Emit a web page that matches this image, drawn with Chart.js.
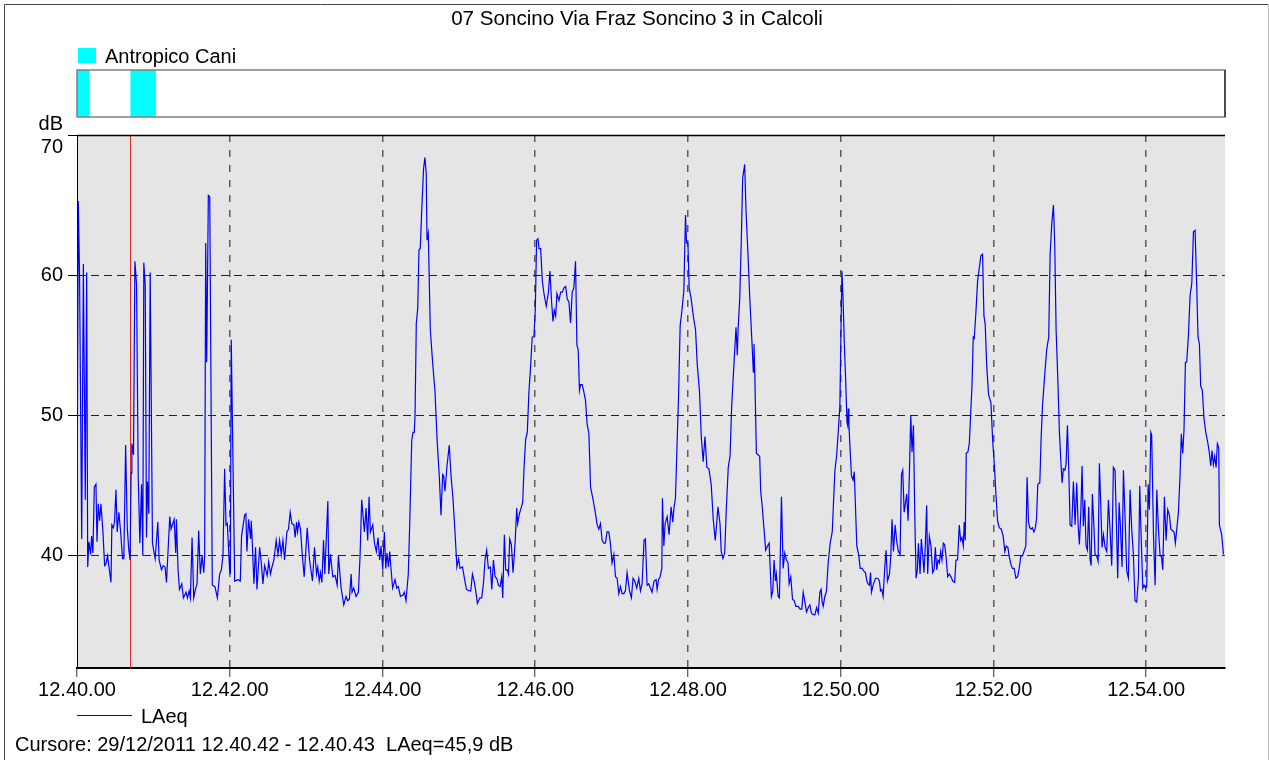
<!DOCTYPE html>
<html>
<head>
<meta charset="utf-8">
<title>07 Soncino Via Fraz Soncino 3 in Calcoli</title>
<script src="https://cdn.jsdelivr.net/npm/chart.js@4.4.1/dist/chart.umd.min.js"></script>
<style>
  html, body { margin: 0; padding: 0; background: #fff; }
  canvas { display: block; }
</style>
</head>
<body>
<canvas id="laeqChart" width="1269" height="760"></canvas>
<script>
// seconds after 12.40.00 and LAeq in dB
const secA = [
  0, 1, 2, 3.7, 5, 6.5, 7.6, 8.4, 9.4, 10.7,
  11.5, 12.5, 13.6, 14.9, 15.7, 16.7, 17.8, 18.8, 20.4, 21.7,
  22.7, 24, 26.7, 27.4, 28.5, 29.5, 30.6, 31.6, 32.9, 34.2,
  35.8, 36.8, 38.2, 39.5, 40.6, 41.7, 42.5, 43.1, 44.4, 45.5,
  46.8, 48.1, 49.4, 50.7, 51.7, 52.5, 53.6, 54.6, 55.4, 56.4,
  57.5, 59.3, 60.4, 61.4, 63.5, 64.5, 66.4, 67.7, 69.2, 70.3,
  72.9, 73.9, 76.3, 77.6, 78.1, 79.4, 80.5, 82.3, 83.6, 85.7,
  86.8, 88.1, 89.1, 90.4, 91.7, 93.3, 94.3, 95.6, 96.9, 98.3,
  99.6, 100.3, 101.1, 101.9, 103.2, 104.3, 106.3, 108.4, 110.3, 112.1,
  113.4, 114.7, 116.0, 117.1, 118.1, 119.9, 120.5, 121.2, 123.9, 126.7,
  128.3, 129.3, 131.7, 132.7, 133.5, 134.8, 136.4, 136.9, 137.7, 139.0,
  140.3, 141.4, 143.5, 144.8, 146.1
];
const dbA = [
  41.0, 65.3, 60.0, 41.2, 60.8, 44.0, 60.2, 39.2, 41.0, 40.1,
  41.4, 40.2, 44.9, 45.1, 41.0, 43.7, 42.5, 43.7, 41.7, 39.3,
  39.4, 40.0, 38.1, 42.2, 42.0, 42.4, 44.7, 41.7, 43.1, 41.8,
  39.8, 39.8, 47.9, 42.0, 40.5, 39.7, 45.9, 48.0, 47.2, 61.0,
  59.3, 45.6, 40.9, 45.1, 40.0, 60.9, 59.3, 41.3, 45.3, 43.0,
  60.2, 40.9, 40.3, 39.8, 42.4, 39.7, 39.0, 39.3, 39.2, 38.1,
  42.8, 41.9, 42.6, 40.2, 42.6, 39.0, 37.6, 38.0, 37.0, 37.4,
  37.0, 37.5, 37.0, 41.3, 37.0, 37.7, 38.0, 41.8, 38.7, 40.0,
  38.8, 40.0, 62.3, 53.8, 65.7, 65.6, 37.9, 37.8, 37.0, 38.7,
  39.0, 40.0, 46.2, 42.2, 42.3, 39.0, 38.7, 55.4, 38.2, 38.3,
  38.2, 41.4, 42.9, 43.0, 40.3, 42.6, 41.2, 42.5, 41.0, 38.0,
  40.6, 37.6, 40.6, 39.5, 38.0
];

const secB = [
  147.4, 149.5, 150.6, 152.0, 153.2, 154.7, 156.5, 157.9, 159.2, 160.5,
  161.8, 163.1, 164.9, 166.2, 167.5, 168.8, 170.4, 171.4, 172.5, 173.3,
  174.3, 175.6, 176.9, 178.5, 180.9, 182.7, 185.0, 186.6, 188.2, 189.2,
  190.3, 191.3, 192.4, 193.7, 194.7, 197.1, 197.8, 199.1, 201.0, 202.8,
  204.4, 205.4, 207.5, 209.6, 211.4, 212.7, 214.0, 215.4, 216.1, 217.4,
  219.3, 221.1, 222.4, 223.7, 225.8, 227.1, 228.4, 229.5, 230.5, 232.4,
  233.7, 235.2, 236.5, 237.8, 238.9, 240.2, 241.5, 242.6, 243.6, 244.7,
  245.7, 246.8, 248.0, 249.9, 251.2, 252.5, 254.1, 256.2, 257.2, 258.5,
  260.3, 261.4, 263.0, 264.0, 265.0, 265.6, 266.6, 267.7, 268.7, 269.7,
  270.8, 272.3, 273.4, 274.4, 275.0, 276.0, 277.6, 279.5, 281.3, 282.9,
  284.7, 286.0, 287.3, 288.1, 289.1, 290.7, 292.5, 293.8, 295.4, 297.0,
  298.5, 299.8
];
const dbB = [
  39.3, 38.6, 39.6, 38.7, 39.2, 39.7, 41.1, 40.1, 41.1, 40.1,
  41.1, 39.7, 41.7, 41.9, 43.1, 42.3, 42.2, 41.3, 42.4, 41.7,
  42.4, 41.9, 40.2, 38.5, 42.0, 39.7, 38.2, 40.6, 38.7, 39.2,
  38.2, 38.8, 38.1, 41.1, 38.7, 43.9, 38.7, 40.1, 38.5, 38.6,
  37.9, 40.0, 37.7, 36.5, 37.1, 36.8, 36.9, 38.7, 37.4, 37.7,
  37.1, 37.4, 40.0, 44.0, 41.7, 43.4, 41.1, 44.2, 41.7, 42.2,
  40.9, 40.3, 41.3, 39.7, 40.7, 39.0, 41.7, 39.1, 40.2, 39.2,
  40.3, 39.0, 37.7, 38.3, 37.7, 37.8, 37.1, 37.2, 37.4, 36.8,
  38.7, 42.2, 48.2, 48.8, 48.8, 50.0, 56.6, 57.6, 61.8, 61.9,
  64.5, 67.6, 68.4, 67.2, 62.5, 63.0, 56.1, 53.7, 51.7, 48.3,
  45.6, 42.9, 45.8, 45.7, 44.6, 46.4, 47.9, 45.8, 44.1, 41.7,
  39.2, 39.8
];

const secC = [
  301.0, 302.9, 304.2, 306.0, 308.1, 309.4, 310.7, 312.0, 313.3, 314.6,
  316.5, 318.0, 319.3, 320.6, 321.9, 323.2, 324.8, 325.9, 327.2, 328.5,
  329.8, 331.1, 332.4, 333.7, 334.5, 335.8, 336.8, 338.1, 339.0, 340.0,
  341.3, 342.6, 344.2, 345.5, 346.2, 347.6, 348.9, 350.2, 351.2, 352.5,
  353.8, 355.1, 356.2, 357.7, 359.0, 360.1, 361.1, 362.2, 363.0, 364.3,
  365.6, 366.9, 368.7, 370.3, 371.6, 372.9, 374.0, 375.0, 376.1, 377.1,
  378.7, 380.0, 381.3, 382.6, 383.9, 385.2, 386.5, 387.8, 389.1, 390.4,
  391.7, 392.8, 393.8, 394.8, 395.6, 396.9, 398.2, 399.5, 400.8, 402.2,
  403.5, 405.3, 407.4, 408.7, 410.0, 411.3, 412.6, 413.9, 415.2, 416.5,
  417.8, 419.1, 420.4, 421.8, 423.1, 424.4, 425.7, 427.0, 428.3, 429.6,
  430.9, 432.2, 434.1, 435.6, 436.9, 438.2, 439.8, 441.4, 442.7, 444.0,
  445.5, 446.6, 447.9, 449.2, 450.5, 451.8, 453.4
];
const dbC = [
  39.1, 39.2, 38.5, 37.6, 37.5, 37.5, 38.7, 38.2, 37.5, 36.6,
  37.0, 37.0, 38.0, 39.7, 40.4, 39.1, 39.2, 37.6, 39.7, 38.5,
  38.4, 37.9, 37.8, 38.5, 37.0, 41.5, 39.0, 39.0, 38.7, 41.2,
  40.8, 38.8, 40.9, 43.4, 42.3, 43.0, 43.4, 43.8, 46.2, 48.3,
  48.8, 51.7, 53.2, 55.6, 55.6, 57.6, 62.5, 62.6, 61.9, 61.9,
  59.6, 58.7, 57.8, 58.7, 60.3, 58.1, 56.7, 57.5, 57.1, 58.7,
  58.2, 58.8, 58.8, 59.1, 59.2, 58.3, 58.1, 56.6, 58.8, 59.1,
  61.0, 55.0, 54.7, 51.8, 52.2, 52.2, 51.7, 51.1, 49.4, 48.7,
  44.9, 44.1, 43.0, 42.2, 41.9, 42.3, 41.1, 40.9, 40.9, 41.7,
  41.7, 40.9, 39.5, 40.1, 38.5, 38.4, 37.3, 37.8, 37.3, 37.3,
  37.5, 38.8, 37.5, 37.0, 38.4, 38.2, 37.7, 38.4, 37.5, 38.0,
  41.1, 41.2, 37.9, 38.0, 37.7, 37.4, 38.2
];

const secD = [
  455.0, 455.8, 456.9, 458.2, 459.5, 460.0, 461.1, 462.1, 463.7, 465.2,
  466.8, 468.1, 469.0, 470.2, 471.6, 472.6, 473.9, 475.2, 476.8, 478.1,
  478.9, 480.0, 481.0, 482.6, 484.4, 486.0, 487.3, 489.1, 490.5, 492.0,
  493.4, 494.9, 496.5, 498.3, 499.9, 501.5, 502.5, 503.6, 505.2, 506.2,
  507.5, 508.9, 510.2, 511.7, 513.1, 514.4, 516.2, 517.8, 518.8, 519.4,
  520.7, 522.0, 523.0, 524.6, 525.7, 527.2, 528.5, 530.4, 531.4, 531.9,
  532.5, 533.8, 535.1, 536.4, 537.2, 538.3, 539.8, 541.1, 542.5, 543.8,
  545.6, 546.7, 547.7, 548.8, 549.5, 550.9, 551.9, 553.5, 554.8, 556.1,
  557.4, 558.7, 559.5, 560.8, 562.2, 563.5, 564.8, 566.6, 568.2, 569.5,
  570.6, 571.9, 573.2, 574.5, 575.8, 577.1, 578.4, 579.8, 581.1, 582.4,
  583.7, 584.7, 585.5, 586.3, 587.6, 588.9, 590.2, 591.8, 593.4, 595.5,
  596.8, 598.1, 599.4, 600.2, 601.0, 601.8, 602.9, 603.9, 605.0, 605.5,
  606.0, 606.5, 607.3
];
const dbD = [
  38.3, 37.6, 38.3, 38.5, 39.1, 44.1, 40.7, 42.3, 42.8, 41.5,
  43.5, 42.4, 43.4, 44.1, 48.3, 51.2, 56.4, 57.4, 58.9, 64.3,
  62.3, 62.3, 59.1, 58.3, 57.0, 56.1, 53.7, 51.7, 48.5, 46.7,
  48.5, 46.3, 46.2, 45.1, 42.6, 41.1, 42.2, 43.5, 42.3, 40.3,
  39.8, 40.2, 43.4, 46.3, 47.1, 50.7, 53.7, 56.3, 54.3, 56.1,
  58.3, 62.7, 66.9, 67.9, 64.5, 61.5, 58.6, 55.1, 53.1, 55.1,
  53.2, 47.3, 47.2, 47.1, 44.6, 43.6, 41.9, 40.4, 40.7, 40.9,
  37.1, 37.5, 39.7, 38.2, 38.7, 37.1, 37.0, 44.2, 39.1, 40.2,
  39.7, 39.5, 38.0, 38.5, 36.9, 36.8, 36.4, 36.4, 36.2, 36.2,
  37.4, 36.7, 36.0, 36.3, 36.5, 35.9, 35.8, 35.8, 36.3, 35.9,
  37.4, 37.6, 36.7, 36.4, 37.1, 37.5, 39.5, 40.9, 41.7, 46.1,
  47.1, 48.8, 50.7, 55.6, 60.3, 58.6, 55.1, 52.7, 49.5, 49.3,
  50.5, 49.4, 47.8
];

const secE = [
  608.5, 609.8, 610.7, 611.7, 612.7, 614.1, 615.4, 616.9, 618.2, 619.5,
  620.6, 621.6, 622.7, 623.5, 624.2, 625.8, 627.4, 629.2, 630.5, 631.3,
  632.3, 633.4, 634.7, 635.7, 636.8, 638.4, 639.4, 640.4, 641.5, 642.8,
  644.1, 645.4, 646.7, 647.8, 648.8, 649.9, 651.0, 651.9, 653.0, 654.0,
  655.1, 656.1, 657.2, 658.2, 659.3, 660.3, 661.1, 662.4, 663.4, 664.5,
  665.5, 666.6, 667.6, 668.4, 669.7, 671.0, 672.3, 673.4, 674.4, 675.5,
  676.5, 677.6, 678.6, 679.6, 680.7, 681.7, 682.8, 684.1, 685.4, 686.7,
  688.0, 689.6, 690.6, 691.9, 693.2, 694.3, 695.3, 696.4, 697.1, 697.9,
  698.7, 700.0, 701.1, 702.1, 703.2, 704.2, 705.0, 706.3, 707.6, 708.9,
  710.2, 711.5, 712.6, 713.6, 714.7, 716.2, 718.1, 719.4, 720.7, 722.0,
  723.3, 724.6, 726.2, 727.7, 729.0, 730.1, 731.4, 732.4, 733.7, 735.0,
  736.3, 737.7, 739.0, 740.3, 741.6, 742.9, 744.4, 745.5, 746.5, 747.6,
  748.6, 749.7, 750.7, 751.8, 752.8, 753.9, 754.9, 756.5, 757.5, 758.6
];
const dbE = [
  45.7, 45.4, 46.0, 43.4, 40.7, 40.1, 39.1, 39.1, 38.9, 38.8,
  38.2, 38.0, 37.9, 38.8, 37.4, 38.0, 38.4, 38.4, 38.2, 37.5,
  37.6, 37.1, 39.2, 40.4, 38.2, 38.7, 40.0, 42.6, 40.3, 42.2,
  41.0, 40.3, 40.1, 45.8, 46.1, 43.1, 43.8, 44.4, 42.5, 45.8,
  50.0, 47.4, 49.3, 43.1, 38.4, 39.0, 40.9, 38.7, 41.2, 40.0,
  38.8, 40.9, 43.6, 38.7, 41.4, 40.7, 38.8, 39.0, 40.6, 39.0,
  39.7, 39.5, 40.3, 39.7, 40.9, 40.8, 40.0, 38.5, 38.7, 38.5,
  38.2, 38.1, 39.7, 39.7, 42.2, 41.1, 41.3, 40.7, 42.4, 41.1,
  47.3, 47.4, 48.0, 50.0, 52.1, 55.6, 55.5, 57.4, 59.6, 60.5,
  61.4, 61.5, 57.1, 56.5, 53.7, 51.5, 50.9, 48.3, 46.6, 44.4,
  42.5, 42.0, 41.9, 41.4, 40.3, 40.7, 40.6, 40.0, 39.4, 39.1,
  39.1, 38.4, 38.5, 39.1, 40.0, 40.0, 40.4, 40.7, 45.6, 42.4,
  42.0, 41.9, 42.0, 41.7, 41.9, 42.6, 45.1, 45.2, 48.3, 50.7
];

const secF = [
  760.6, 761.9, 763.5, 764.6, 765.9, 767.2, 768.2, 769.3, 770.6, 771.9,
  773.0, 774.0, 775.0, 776.1, 777.1, 778.2, 779.2, 780.3, 781.6, 782.9,
  784.2, 785.5, 786.6, 787.6, 788.7, 789.7, 790.7, 791.8, 792.8, 793.9,
  794.9, 796.0, 796.8, 797.8, 798.9, 799.9, 801.2, 802.3, 803.3, 804.4,
  805.4, 806.5, 807.8, 809.1, 810.4, 811.7, 813.0, 814.3, 815.6, 816.7,
  817.7, 818.8, 819.8, 821.1, 822.2, 823.5, 824.8, 826.1, 827.4, 828.7,
  830.0, 831.3, 832.6, 834.0, 835.0, 836.1, 837.4, 838.4, 839.5, 840.5,
  841.6, 842.6, 843.7, 844.4, 845.8, 847.1, 848.4, 849.7, 851.0, 852.0,
  853.1, 854.4, 855.7, 857.0, 858.3, 859.4, 860.7, 862.0, 863.0, 864.1,
  865.4, 866.7, 867.7, 868.8, 869.8, 870.9, 871.9, 873.2, 874.6, 875.9,
  877.2, 878.5, 879.8, 880.8, 881.9, 882.9, 884.2, 885.5, 886.9, 888.2,
  889.5, 890.8, 891.8, 892.9, 893.9, 895.0, 896.0, 897.1, 897.6, 899.4,
  900.8
];
const dbF = [
  53.2, 54.7, 55.6, 61.5, 63.7, 65.0, 62.3, 56.1, 52.7, 48.8,
  46.8, 45.2, 46.2, 46.1, 46.5, 49.3, 46.3, 42.2, 42.1, 45.3,
  42.2, 45.2, 42.2, 40.8, 43.1, 46.4, 42.1, 44.0, 40.7, 40.4,
  43.5, 39.7, 39.3, 44.4, 42.3, 40.1, 40.0, 39.6, 46.6, 43.6,
  40.6, 41.5, 40.6, 40.3, 44.0, 41.8, 39.3, 46.3, 46.1, 42.2,
  38.4, 43.8, 42.2, 39.2, 46.1, 42.6, 38.9, 38.4, 44.7, 41.9,
  40.1, 36.8, 36.7, 38.4, 45.0, 41.4, 37.7, 37.9, 37.7, 37.8,
  45.1, 43.3, 48.8, 48.6, 41.5, 37.9, 44.7, 41.9, 40.0, 40.0,
  39.0, 44.2, 41.1, 43.3, 42.9, 41.9, 41.8, 41.7, 40.9, 41.9,
  43.1, 45.8, 48.7, 47.3, 49.0, 53.8, 53.8, 55.6, 58.6, 59.4,
  63.1, 63.2, 59.1, 55.6, 55.1, 52.1, 51.8, 49.8, 48.8, 48.2,
  47.5, 46.4, 47.5, 46.5, 47.1, 46.3, 48.0, 47.7, 42.2, 41.5,
  40.1
];

// "Antropico Cani" events (seconds after 12.40.00)
const caniStart = [0, 42];
const caniEnd = [10, 62];
const cursorSec = 42;

const xMax = 902;
const yMin = 32, yMax = 70;

const seconds = [].concat(secA, secB, secC, secD, secE, secF);
const levels = [].concat(dbA, dbB, dbC, dbD, dbE, dbF);
const points = seconds.map((s, i) => ({ x: s, y: levels[i] }));

const FAMILY = '"Liberation Sans", Arial, Helvetica, sans-serif';
const FONT = '20px ' + FAMILY;

function clock(sec) {
  const m = 40 + Math.floor(sec / 60);
  const s = Math.round(sec % 60);
  return '12.' + m + '.' + String(s).padStart(2, '0');
}

const decor = {
  id: 'decor',
  beforeDraw(chart) {
    const { ctx, chartArea: a } = chart;
    const x = chart.scales.x;
    ctx.save();
    ctx.fillStyle = '#fff';
    ctx.fillRect(0, 0, chart.width, chart.height);

    // outer frame
    ctx.lineWidth = 1;
    ctx.strokeStyle = '#444';
    ctx.beginPath();
    ctx.moveTo(4.5, chart.height);
    ctx.lineTo(4.5, 4.5);
    ctx.lineTo(1268, 4.5);
    ctx.stroke();
    ctx.strokeStyle = '#bbb';
    ctx.beginPath();
    ctx.moveTo(1268.5, 4.5);
    ctx.lineTo(1268.5, chart.height);
    ctx.stroke();

    // plot background
    ctx.fillStyle = '#e5e5e5';
    ctx.fillRect(a.left, a.top, a.right - a.left, a.bottom - a.top);

    // event strip
    const top = 70, h = 47;
    ctx.fillStyle = '#00ffff';
    caniStart.forEach((s, i) => {
      const x0 = x.getPixelForValue(s);
      ctx.fillRect(x0, top, x.getPixelForValue(caniEnd[i]) - x0, h);
    });
    ctx.strokeStyle = '#808080';
    ctx.lineWidth = 1.5;
    ctx.strokeRect(a.left, top, a.right - a.left, h);
    ctx.strokeStyle = '#333';
    ctx.beginPath();
    ctx.moveTo(a.right, top);
    ctx.lineTo(a.right, top + h);
    ctx.stroke();

    // texts
    ctx.fillStyle = '#000';
    ctx.textBaseline = 'middle';
    ctx.textAlign = 'center';
    ctx.font = '20.6px ' + FAMILY;
    ctx.fillText('07 Soncino Via Fraz Soncino 3 in Calcoli', 637, 19);

    ctx.font = FONT;
    ctx.fillStyle = '#00ffff';
    ctx.fillRect(78, 48, 18, 15);
    ctx.fillStyle = '#000';
    ctx.textAlign = 'left';
    ctx.fillText('Antropico Cani', 105, 57);

    ctx.textAlign = 'right';
    ctx.fillText('dB', 63, 124);
    ctx.fillText('70', 63, chart.scales.y.getPixelForValue(yMax) + 12);

    // series legend and cursor readout
    ctx.strokeStyle = '#0000ff';
    ctx.lineWidth = 1;
    ctx.beginPath();
    ctx.moveTo(77, 715.5);
    ctx.lineTo(132, 715.5);
    ctx.stroke();
    ctx.textAlign = 'left';
    ctx.fillText('LAeq', 141, 717);
    ctx.fillText('Cursore: 29/12/2011 12.40.42 - 12.40.43  LAeq=45,9 dB', 15, 745);
    ctx.restore();
  },
  beforeDatasetsDraw(chart) {
    const { ctx, chartArea: a } = chart;
    ctx.save();
    const cx = Math.round(chart.scales.x.getPixelForValue(cursorSec)) + 0.5;
    ctx.strokeStyle = '#e02828';
    ctx.lineWidth = 1;
    ctx.beginPath();
    ctx.moveTo(cx, a.top);
    ctx.lineTo(cx, a.bottom);
    ctx.stroke();
    ctx.strokeStyle = '#000';
    ctx.lineWidth = 1.5;
    ctx.beginPath();
    ctx.moveTo(a.left, a.top + 0.5);
    ctx.lineTo(a.right, a.top + 0.5);
    ctx.stroke();
    ctx.restore();
  }
};

Chart.defaults.font.family = FAMILY;
Chart.defaults.font.size = 20;
Chart.defaults.color = '#000';

new Chart(document.getElementById('laeqChart'), {
  type: 'line',
  data: {
    datasets: [{
      label: 'LAeq',
      data: points,
      borderColor: '#0000ff',
      borderWidth: 1.2,
      pointRadius: 0,
      tension: 0,
      fill: false
    }]
  },
  options: {
    responsive: false,
    animation: false,
    events: [],
    layout: { padding: { left: 0, right: 44, top: 135, bottom: 0 } },
    plugins: {
      legend: { display: false },
      tooltip: { enabled: false },
      title: { display: false }
    },
    scales: {
      x: {
        type: 'linear',
        min: 0,
        max: xMax,
        afterFit: s => { s.height = 92; },
        ticks: {
          stepSize: 120,
          includeBounds: false,
          autoSkip: false,
          maxRotation: 0,
          padding: 1,
          color: '#000',
          callback: v => clock(v)
        },
        grid: {
          color: c => (c.tick && c.tick.value === 0) ? 'rgba(0,0,0,0)' : 'rgba(0,0,0,0.6)',
          lineWidth: 1.5,
          tickLength: 9,
          tickColor: '#333',
          tickWidth: 1
        },
        border: { display: true, color: '#000', width: 2, dash: [7, 8] }
      },
      y: {
        min: yMin,
        max: yMax,
        afterFit: s => { s.width = 77; },
        ticks: {
          stepSize: 10,
          includeBounds: false,
          padding: 5,
          color: '#000',
          callback: v => v === yMax ? '' : String(v)
        },
        grid: {
          color: c => (c.tick && c.tick.value === yMax) ? 'rgba(0,0,0,0)' : '#222',
          lineWidth: 1,
          tickLength: 9,
          tickColor: '#000'
        },
        border: { display: true, color: '#000', width: 1, dash: [8, 5] }
      }
    }
  },
  plugins: [decor]
});
</script>
</body>
</html>
